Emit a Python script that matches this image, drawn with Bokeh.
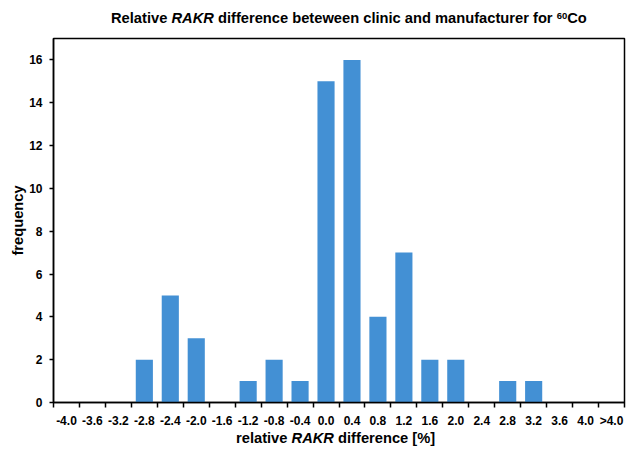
from bokeh.plotting import figure
from bokeh.models import ColumnDataSource, Range1d, FixedTicker, Div
from bokeh.layouts import column
from bokeh.embed import file_html
from bokeh.resources import INLINE

categories = ["-4.0", "-3.6", "-3.2", "-2.8", "-2.4", "-2.0", "-1.6", "-1.2", "-0.8", "-0.4",
              "0.0", "0.4", "0.8", "1.2", "1.6", "2.0", "2.4", "2.8", "3.2", "3.6", "4.0", ">4.0"]
frequency = [0, 0, 0, 2, 5, 3, 0, 1, 2, 1, 15, 16, 4, 7, 2, 2, 0, 1, 1, 0, 0, 0]
y_ticks = [0, 2, 4, 6, 8, 10, 12, 14, 16]
y_max = 17

FONT = "Liberation Sans"
BAR = "#4390D4"
W = 626

title_html = ('<div style="font-family:\'Liberation Sans\',Arial,sans-serif;font-weight:bold;'
              'font-size:14.7px;line-height:17px;color:black;white-space:nowrap;'
              'padding-top:10px;padding-left:111px;">'
              'Relative <i>RAKR</i> difference beteween clinic and manufacturer for '
              '<span style="font-size:9.5px;vertical-align:4.5px;line-height:0">60</span>Co</div>')
xlabel_html = ('<div style="font-family:\'Liberation Sans\',Arial,sans-serif;font-weight:bold;'
               'font-size:14.7px;line-height:14px;color:black;white-space:nowrap;'
               'padding-top:1px;padding-left:236px;">'
               'relative <i>RAKR</i> difference [%]</div>')

n = len(categories)
centers = [i + 0.5 for i in range(n)]
bounds = [float(i) for i in range(n + 1)]

src = ColumnDataSource(dict(x=centers, freq=frequency))

p = figure(width=W, height=398, output_backend="svg", toolbar_location=None,
           x_range=Range1d(0, n), y_range=Range1d(0, y_max),
           min_border_left=53, min_border_right=2, min_border_top=6, min_border_bottom=22)

p.vbar(x="x", top="freq", width=0.66, source=src, fill_color=BAR, line_color=None)

p.xgrid.visible = False
p.ygrid.visible = False
p.outline_line_color = "black"
p.outline_line_width = 1.5
p.background_fill_color = "white"
p.border_fill_color = "white"

p.yaxis.ticker = FixedTicker(ticks=y_ticks)
p.yaxis.minor_tick_line_color = None
p.yaxis.major_tick_out = 4
p.yaxis.major_tick_in = 0
p.yaxis.major_label_standoff = 7
p.yaxis.axis_label = "frequency"
p.yaxis.axis_label_standoff = 0

p.xaxis.ticker = FixedTicker(ticks=centers, minor_ticks=bounds)
p.xaxis.major_label_overrides = {c: lab for c, lab in zip(centers, categories)}
p.xaxis.major_tick_line_color = None
p.xaxis.minor_tick_line_color = "black"
p.xaxis.minor_tick_line_width = 1.5
p.xaxis.minor_tick_out = 5
p.xaxis.minor_tick_in = 0
p.xaxis.major_label_standoff = 5

for ax in (p.xaxis[0], p.yaxis[0]):
    ax.axis_line_color = "black"
    ax.axis_line_width = 1.5
    ax.major_label_text_font = FONT
    ax.major_label_text_font_style = "bold"
    ax.major_label_text_font_size = "12px"
    ax.major_label_text_color = "black"
    ax.axis_label_text_font = FONT
    ax.axis_label_text_font_style = "bold"
    ax.axis_label_text_font_size = "14.7px"
    ax.axis_label_text_color = "black"
p.yaxis.major_tick_line_color = "black"
p.yaxis.major_tick_line_width = 1.5

title_div = Div(text=title_html, width=W, height=32, margin=(0, 0, 0, 0))
xlabel_div = Div(text=xlabel_html, width=W, height=16, margin=(0, 0, 0, 0))

layout = column(title_div, p, xlabel_div, spacing=0)

open("out.html", "w").write(file_html(layout, INLINE))
